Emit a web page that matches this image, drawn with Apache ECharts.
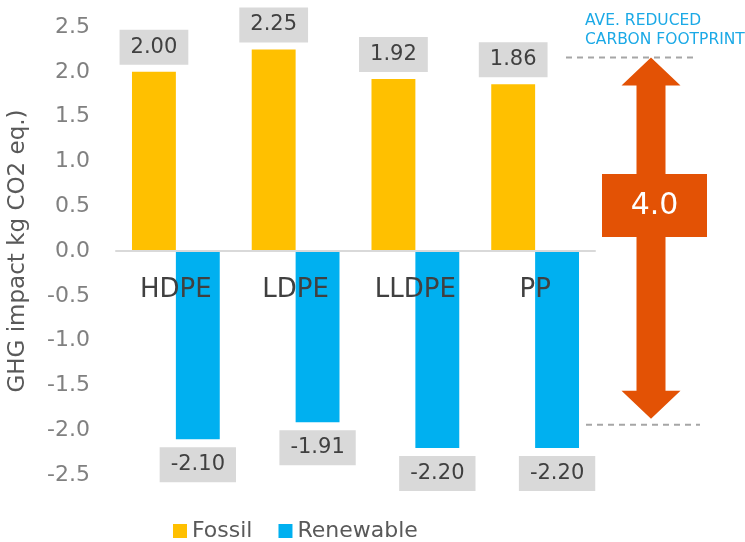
<!DOCTYPE html>
<html>
<head>
<meta charset="utf-8">
<script src="https://cdn.jsdelivr.net/npm/echarts@6/dist/echarts.min.js"></script>
<style>
html,body{margin:0;padding:0;background:#fff;}
#chart{width:745px;height:542px;}
</style>
</head>
<body>
<div id="chart"></div>
<script>
const categories = ['HDPE', 'LDPE', 'LLDPE', 'PP'];
const fossil = [2.00, 2.25, 1.92, 1.86];
const renewable = [-2.10, -1.91, -2.20, -2.20];
const seriesNames = ['Fossil', 'Renewable'];
const yMin = -2.5, yMax = 2.5, yStep = 0.5;
const axisTitle = 'GHG impact kg CO2 eq.)';
const annotationText = 'AVE. REDUCED\nCARBON FOOTPRINT';
const reductionLabel = '4.0';
const refLevels = [2.16, -1.94];

const FONT = 'DejaVu Sans';
const chart = echarts.init(document.getElementById('chart'), null, {renderer: 'canvas'});

const labelCommon = {
  show: true,
  backgroundColor: '#d9d9d9',
  padding: [7, 11, 7, 11],
  color: '#404040',
  fontFamily: FONT,
  fontSize: 21,
  distance: 7,
  formatter: p => p.value.toFixed(2)
};

chart.setOption({
  animation: false,
  textStyle: {fontFamily: FONT},
  grid: {left: 116, right: 150, top: 27, bottom: 67, containLabel: false, outerBoundsMode: 'none'},
  legend: {
    data: seriesNames,
    left: 168, top: 515,
    icon: 'rect', itemWidth: 14, itemHeight: 14, itemGap: 26,
    textStyle: {fontFamily: FONT, fontSize: 22, color: '#595959'}
  },
  xAxis: {
    type: 'category',
    data: categories,
    z: 10,
    axisLine: {show: true, onZero: false, lineStyle: {color: '#d9d9d9', width: 2}},
    axisTick: {show: false},
    axisLabel: {margin: 26, fontFamily: FONT, fontSize: 26, color: '#404040'}
  },
  yAxis: {
    type: 'value',
    min: yMin, max: yMax, interval: yStep,
    name: axisTitle,
    nameLocation: 'middle',
    nameGap: 86,
    nameTextStyle: {fontFamily: FONT, fontSize: 23, color: '#595959'},
    axisLine: {show: false},
    axisTick: {show: false},
    splitLine: {show: false},
    axisLabel: {margin: 26, fontFamily: FONT, fontSize: 22, color: '#808080',
      formatter: v => v.toFixed(1)}
  },
  series: [
    {
      name: seriesNames[0], type: 'bar', data: fossil,
      barGap: '0%', barCategoryGap: '26.7%',
      itemStyle: {color: '#FFC000'},
      label: Object.assign({}, labelCommon, {position: 'top'})
    },
    {
      name: seriesNames[1], type: 'bar', data: renewable,
      barGap: '0%', barCategoryGap: '26.7%',
      itemStyle: {color: '#00B0F0'},
      label: Object.assign({}, labelCommon, {position: 'bottom', distance: 8})
    }
  ]
});

// Move the category axis (line + labels) to the zero level
const zeroPx = chart.convertToPixel({yAxisIndex: 0}, 0);
const bottomPx = chart.convertToPixel({yAxisIndex: 0}, yMin);
chart.setOption({xAxis: {offset: zeroPx - bottomPx}});

// Annotation (arrow + reference lines) anchored to axis values
const yTop = chart.convertToPixel({yAxisIndex: 0}, refLevels[0]);
const yBot = chart.convertToPixel({yAxisIndex: 0}, refLevels[1]);
const cx = 651, headHalf = 29.5, shaftHalf = 14.5, headH = 28;
const tipBot = yBot - 6;
const orange = '#E35205';
chart.setOption({
  graphic: [
    {type: 'line', shape: {x1: 566, y1: yTop, x2: 695, y2: yTop},
      style: {stroke: '#a6a6a6', lineWidth: 2, lineDash: [6, 5]}},
    {type: 'line', shape: {x1: 586, y1: yBot, x2: 700, y2: yBot},
      style: {stroke: '#a6a6a6', lineWidth: 2, lineDash: [6, 5]}},
    {type: 'polygon', shape: {points: [
      [cx, yTop], [cx + headHalf, yTop + headH], [cx + shaftHalf, yTop + headH],
      [cx + shaftHalf, tipBot - headH], [cx + headHalf, tipBot - headH], [cx, tipBot],
      [cx - headHalf, tipBot - headH], [cx - shaftHalf, tipBot - headH],
      [cx - shaftHalf, yTop + headH], [cx - headHalf, yTop + headH]
    ]}, style: {fill: orange}},
    {type: 'rect', shape: {x: 602, y: 174, width: 105, height: 63}, style: {fill: orange}},
    {type: 'text', x: 654.5, y: 206,
      style: {text: reductionLabel, fill: '#ffffff', font: '30px "DejaVu Sans"',
        textAlign: 'center', textVerticalAlign: 'middle'}},
    {type: 'text', x: 585, y: 11,
      style: {text: annotationText, fill: '#1BA9E6', font: '15.5px "DejaVu Sans"',
        lineHeight: 19, textAlign: 'left', textVerticalAlign: 'top'}}
  ]
});
</script>
</body>
</html>
